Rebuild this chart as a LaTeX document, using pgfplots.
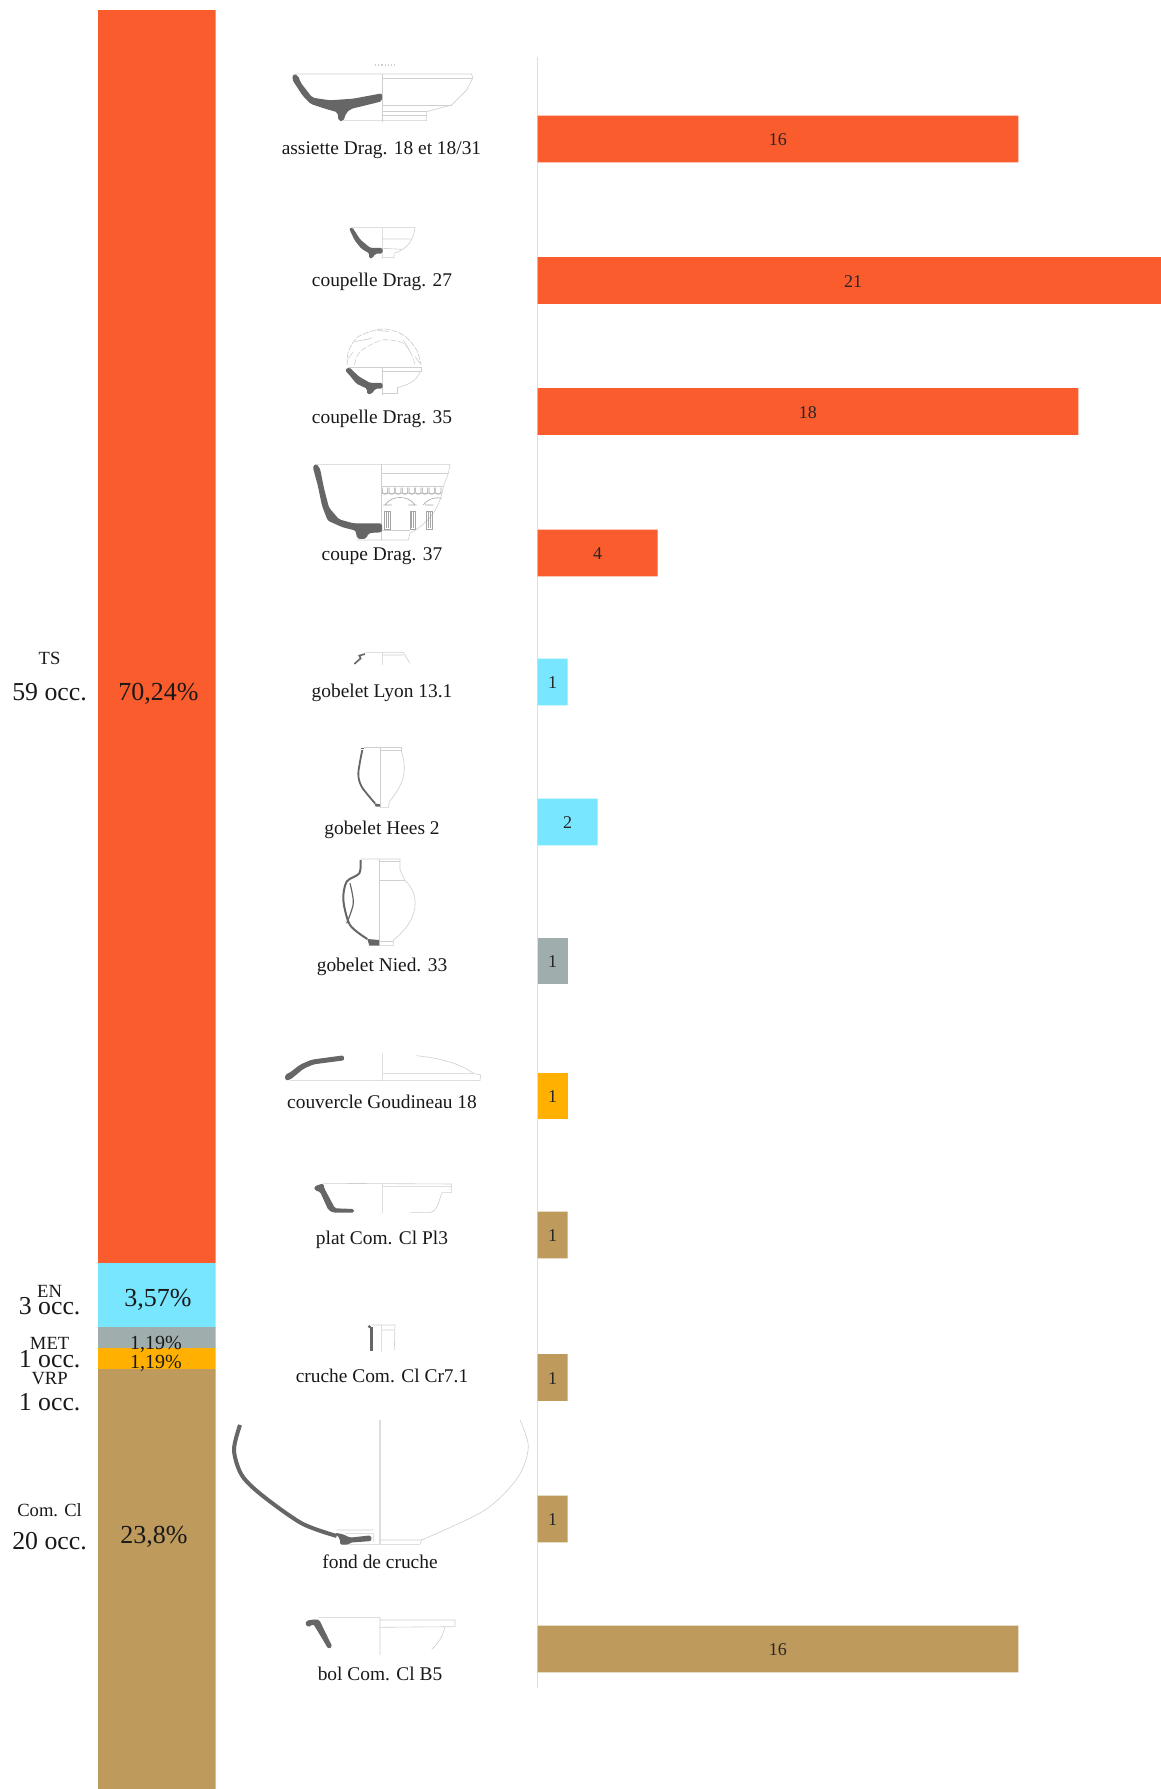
\documentclass[border=0pt]{standalone}
\usepackage{fontspec}
\setmainfont{Liberation Serif}
\usepackage{pgfplots}
\pgfplotsset{compat=1.18}
\usepackage{pgfplotstable}
\definecolor{cTS}{HTML}{FA5C2E}
\definecolor{cEN}{HTML}{78E6FF}
\definecolor{cMET}{HTML}{A0ADAD}
\definecolor{cVRP}{HTML}{FFB000}
\definecolor{cCom}{HTML}{BE9A5C}
\definecolor{prof}{HTML}{666666}
\definecolor{lite}{HTML}{CFCFCF}
\newcommand{\fs}[1]{\fontsize{#1}{#1}\selectfont}
% y = vertical place of the bar (pixels from the top of the figure), n = occurrences
\pgfplotstableread{
y n
138 16
279.4 21
410.5 18
552 4
}\tabTS
\pgfplotstableread{
y n
681 1
821 2
}\tabEN
\pgfplotstableread{
y n
960 1
}\tabMET
\pgfplotstableread{
y n
1095 1
}\tabVRP
\pgfplotstableread{
y n
1234 1
1376.5 1
1518 1
1648 16
}\tabCom
\begin{document}
\begin{tikzpicture}
\fill[white,use as bounding box] (0,0) rectangle (580.5pt,894.5pt);

% stacked share column (cropped at the foot of the figure, as in the reference)
\begin{axis}[at={(49pt,0pt)},anchor=south west,scale only axis,width=58.75pt,height=889.5pt,
  hide axis,ybar stacked,bar width=58.75pt,bar shift=0pt,xmin=-0.5,xmax=0.5,ymin=0,ymax=99.72,y dir=reverse]
\addplot[fill=cTS,draw=none] coordinates {(0,70.24)};
\addplot[fill=cEN,draw=none] coordinates {(0,3.57)};
\addplot[fill=cMET,draw=none] coordinates {(0,1.19)};
\addplot[fill=cVRP,draw=none] coordinates {(0,1.19)};
\addplot[fill=cCom,draw=none] coordinates {(0,23.8)};
\end{axis}

% horizontal bars
\begin{axis}[at={(268.75pt,50.5pt)},anchor=south west,scale only axis,width=311.75pt,height=815.5pt,
  xmin=0,xmax=20.75,ymin=56,ymax=1687,y dir=reverse,
  axis x line=none,axis y line*=left,ytick=\empty,xtick=\empty,
  axis line style={-,draw=black!13,line width=0.6pt},
  /pgf/number format/assume math mode=true,
  xbar,bar width=23.4pt,bar shift=0pt,
  every node near coord/.append style={font=\fs{9},text=black!85,anchor=center,inner sep=0pt,yshift=-0.5pt}]
\addplot[fill=cTS,draw=none] table[x=n,y=y] {\tabTS};
\addplot[fill=cEN,draw=none] table[x=n,y=y] {\tabEN};
\addplot[fill=cMET,draw=none] table[x=n,y=y] {\tabMET};
\addplot[fill=cVRP,draw=none] table[x=n,y=y] {\tabVRP};
\addplot[fill=cCom,draw=none] table[x=n,y=y] {\tabCom};
\pgfplotsset{lab/.style={draw=none,fill=none,forget plot,no marks,nodes near coords,point meta=explicit}}
\addplot[lab] table[x expr=\thisrow{n}/2,y=y,meta=n] {\tabTS};
\addplot[lab] table[x expr=\thisrow{n}/2,y=y,meta=n] {\tabEN};
\addplot[lab] table[x expr=\thisrow{n}/2,y=y,meta=n] {\tabMET};
\addplot[lab] table[x expr=\thisrow{n}/2,y=y,meta=n] {\tabVRP};
\addplot[lab] table[x expr=\thisrow{n}/2,y=y,meta=n] {\tabCom};
\end{axis}

\begin{scope}[yshift=894.5pt,x=0.5pt,y=-0.5pt]
% texts
\foreach \px/\py/\s/\t in {
 381.5/150/9.7/{assiette Drag. 18 et 18/31},
 382/282/9.7/{coupelle Drag. 27},
 382/418.5/9.7/{coupelle Drag. 35},
 382/556/9.7/{coupe Drag. 37},
 382/692.5/9.7/{gobelet Lyon 13.1},
 382/829.5/9.7/{gobelet Hees 2},
 382/966.5/9.7/{gobelet Nied. 33},
 382/1102/9.7/{couvercle Goudineau 18},
 382/1240/9.7/{plat Com. Cl Pl3},
 382/1376/9.7/{cruche Com. Cl Cr7.1},
 380/1561.5/9.7/{fond de cruche},
 380/1674/9.7/{bol Com. Cl B5},
 49.6/658/9.3/{TS},
 49.6/692/12.9/{59 occ.},
 49.6/1291/9.3/{EN},
 49.6/1306/12.9/{3 occ.},
 49.6/1343/9.3/{MET},
 49.6/1359/12.9/{1 occ.},
 49.6/1379/9.3/{VRP},
 49.6/1402/12.9/{1 occ.},
 49.6/1510/9.3/{Com. Cl},
 49.6/1541/12.9/{20 occ.},
 158.5/694/13/{70,24\%},
 158/1300/13/{3,57\%},
 156/1344/10/{1,19\%},
 156/1363/10/{1,19\%},
 154/1537/13/{23,8\%}}
 {\node[inner sep=0pt,anchor=center,text=black!90,font=\fs{\s}] at (\px,\py) {\t};}

% pot 1
\begin{scope}[shift={(270,50)},scale=1/3]
\draw[lite,line width=.3pt] (75,72)--(605,72)--(608,85)--(590,120)--(545,165)--(470,185)--(470,212)--(218,212);
\draw[lite,line width=.3pt] (337,72)--(337,215) (337,165)--(545,165) (337,183)--(470,183) (337,195)--(470,195) (337,85)--(605,85);
\draw[lite,line width=.6pt,densely dotted] (315,45)--(375,45);
\fill[prof,rounded corners=1pt] (66,88)--(70,72)--(84,76)--(92,98)--(127,143)--(180,151)--(250,146)--(336,130)--(336,154)--(242,177)--(228,190)--(220,214)--(205,212)--(203,187)--(168,177)--(122,162)--(98,137)--cycle;
\end{scope}
% pots 2 and 3
\begin{scope}[shift={(320,215)},scale=1/3]
\draw[lite,line width=.3pt] (95,37)--(285,37) (187,37)--(187,130) (187,72)--(272,72) (187,100)--(245,103) (187,128)--(222,128)--(222,114);
\draw[lite,line width=.3pt] (285,37) .. controls (280,75) and (265,100) .. (225,114);
\fill[prof,rounded corners=.8pt] (87,40)--(97,37)--(121,74)--(151,99)--(188,99)--(188,116)--(166,116)--(156,131)--(146,129)--(149,116)--(124,101)--(104,76)--cycle;
\draw[lite,line width=.35pt,dash pattern=on 3pt off .7pt] plot[smooth] coordinates {(82,450)(85,410)(115,365)(187,342)(250,360)(290,405)(303,450)};
\draw[lite,line width=.3pt,dash pattern=on 3pt off 1pt] plot[smooth] coordinates {(103,450)(120,410)(187,375)(250,385)(275,420)(285,450)};
\draw[lite,line width=.3pt] (170,345)--(205,350) (105,380)--(155,370) (250,375)--(270,410) (85,430)--(100,410) (285,425)--(300,445);
\draw[lite,line width=.3pt] (85,458)--(303,458)--(303,468)--(187,468) (187,458)--(187,540) (187,535)--(232,535)--(232,515);
\draw[lite,line width=.3pt] (300,468) .. controls (295,495) and (265,510) .. (232,518);
\fill[prof,rounded corners=.8pt] (74,465)--(88,457)--(116,484)--(151,504)--(188,504)--(188,521)--(166,521)--(156,536)--(141,538)--(141,521)--(109,506)--(89,481)--cycle;
\end{scope}
% pot 4
\begin{scope}[shift={(300,455)},scale=1/3]
\draw[lite,line width=.3pt] (45,28)--(450,28)--(445,55)--(430,95) .. controls (420,160) and (385,205) .. (330,235)--(325,255)--(170,255);
\draw[lite,line width=.3pt] (245,28)--(245,255) (245,55)--(445,55) (245,95)--(430,95) (245,225)--(330,225) (245,115)--(425,115);
\foreach \c in {262,338,388}{\draw[lite!80!black,line width=.3pt] (\c-8,170) rectangle (\c+8,222) (\c-3,172)--(\c-3,220) (\c+3,172)--(\c+3,220);}
\draw[lite!80!black,line width=.3pt] (255,150) .. controls (275,120) and (325,120) .. (345,150) (370,150) .. controls (385,130) and (410,125) .. (425,130) (250,150)--(275,150) (325,150)--(350,150) (375,150)--(400,150);
\foreach \c in {255,275,295,315,335,355,375,395,415}{\draw[lite!80!black,line width=.3pt] (\c-8,98) -- (\c-8,112) .. controls (\c-4,120) and (\c+4,120) .. (\c+8,112) -- (\c+8,98);}
\fill[prof,rounded corners=1.2pt] (38,35)--(48,26)--(60,40)--(72,100)--(87,158)--(117,193)--(160,205)--(246,205)--(246,232)--(207,234)--(197,252)--(173,252)--(168,237)--(168,227)--(128,217)--(83,197)--(66,152)--(53,90)--cycle;
\end{scope}
% pots 5, 6, 7
\begin{scope}[shift={(330,640)},scale=1/3]
\draw[lite,line width=.3pt] (105,37)--(220,37)--(240,70) (157,37)--(157,75) (157,45)--(220,45);
\draw[prof,line width=.8pt] (73,72)--(92,55)--(88,47)--(105,42);
\draw[lite,line width=.3pt] (103,322)--(215,322)--(215,335) (152,322)--(152,505) (152,330)--(215,330);
\draw[lite,line width=.3pt] (215,335) .. controls (235,400) and (215,440) .. (178,485)--(175,503)--(152,503);
\draw[prof,line width=.7pt] (92,325)--(103,325);
\draw[prof,line width=.9pt] plot[smooth] coordinates {(97,330)(85,400)(95,440)(135,490)};
\fill[prof] (133,490)--(150,493)--(150,500)--(137,500)--cycle;
\draw[lite,line width=.3pt] (92,657)--(210,657)--(210,690)--(225,722) .. controls (270,760) and (270,840) .. (190,900)--(190,917)--(148,917);
\draw[lite,line width=.3pt] (148,657)--(148,917) (148,722)--(225,722) (148,665)--(210,665) (148,905)--(190,905);
\draw[prof,line width=1pt] plot[smooth] coordinates {(92,660)(88,700)(50,725)(40,780)(60,855)(112,897)};
\draw[prof,line width=.6pt] plot[smooth] coordinates {(60,730)(70,790)(50,850)};
\fill[prof] (112,897)--(147,900)--(147,917)--(118,917)--cycle;
\end{scope}
% pots 8, 9
\begin{scope}[shift={(270,1040)},scale=1/3]
\draw[lite,line width=.3pt] (60,122)--(630,122)--(632,105)--(610,100)--(338,100) (338,40)--(338,122);
\draw[lite,line width=.3pt] (440,47) .. controls (510,55) and (570,70) .. (610,100);
\fill[prof,rounded corners=1pt] (44,104)--(58,99)--(90,74)--(125,59)--(221,46)--(223,61)--(131,73)--(101,86)--(61,119)--(47,122)--cycle;
\draw[lite,line width=.3pt] (160,430)--(545,432)--(545,458)--(515,458) (338,430)--(338,520) (338,440)--(545,440);
\draw[lite,line width=.3pt] (515,460) .. controls (505,490) and (500,515) .. (480,518)--(420,518);
\fill[prof,rounded corners=.8pt] (132,440)--(145,435)--(160,430)--(163,445)--(195,505)--(252,507)--(252,518)--(190,518)--(175,510)--(150,455)--(135,452)--cycle;
\end{scope}
% pot 10
\begin{scope}[shift={(350,1310)},scale=1/3]
\draw[lite,line width=.3pt] (65,45)--(135,45)--(133,120) (95,45)--(95,125) (95,60)--(133,60);
\draw[prof,line width=1.5pt] (63,50)--(63,122);
\fill[prof] (58,50) circle (5);
\end{scope}
% pot 11
\begin{scope}[shift={(225,1410)},scale=1/3]
\draw[lite!70,line width=.8pt] (465,30)--(465,403);
\draw[lite,line width=.3pt] (465,390)--(590,390)--(585,403)--(350,403) (335,360)--(445,360) (360,370)--(445,370)--(445,395);
\draw[lite,line width=.3pt] plot[smooth] coordinates {(885,30)(910,110)(880,200)(780,300)(590,390)};
\draw[prof,line width=2pt] plot[smooth] coordinates {(45,45)(27,120)(50,195)(110,255)(230,340)(335,378)};
\fill[prof,rounded corners=.8pt] (330,368)--(355,373)--(375,383)--(438,376)--(440,393)--(375,398)--(370,404)--(345,404)--(345,387)--cycle;
\end{scope}
% pot 12
\begin{scope}[shift={(290,1600)},scale=1/3]
\draw[lite,line width=.3pt] (85,52)--(270,52) (270,52)--(270,165) (270,60)--(495,60)--(495,80)--(270,82);
\draw[lite,line width=.3pt] (465,82) .. controls (455,115) and (445,130) .. (425,148);
\fill[prof,rounded corners=.8pt] (50,62)--(60,60)--(80,58)--(88,60)--(127,140)--(115,147)--(75,80)--(70,72)--(55,82)--(45,72)--cycle;
\end{scope}
\end{scope}
\end{tikzpicture}
\end{document}
